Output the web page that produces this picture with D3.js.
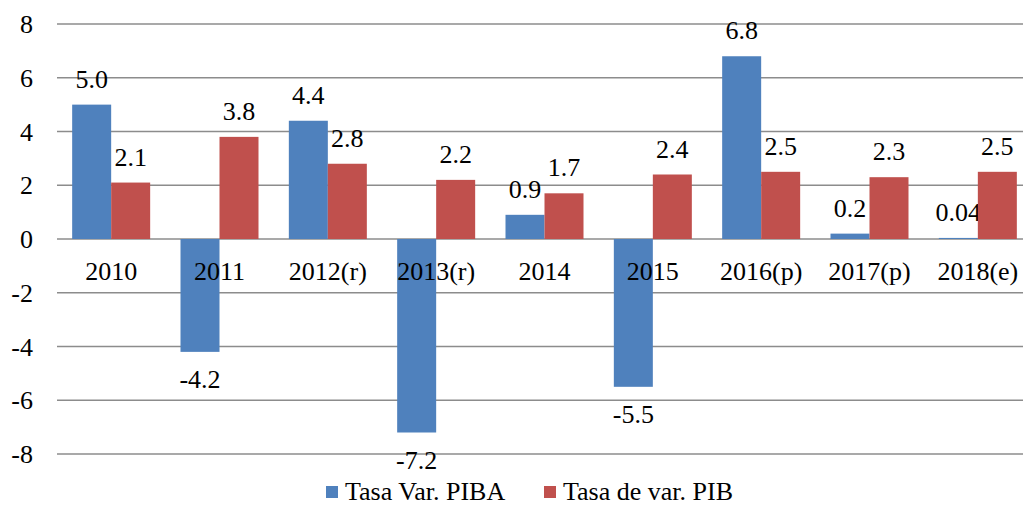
<!DOCTYPE html>
<html>
<head>
<meta charset="utf-8">
<script src="https://cdn.jsdelivr.net/npm/d3@7"></script>
<style>
  body { margin: 0; background: #fff; }
  text { font-family: "Liberation Serif", "Times New Roman", serif; fill: #000; }
</style>
</head>
<body>
<script>
var years = ["2010","2011","2012(r)","2013(r)","2014","2015","2016(p)","2017(p)","2018(e)"];
var piba = [5.0,-4.2,4.4,-7.2,0.9,-5.5,6.8,0.2,0.04];
var pib = [2.1,3.8,2.8,2.2,1.7,2.4,2.5,2.3,2.5];
var pibaLabels = ["5.0","-4.2","4.4","-7.2","0.9","-5.5","6.8","0.2","0.04"];
var pibLabels = ["2.1","3.8","2.8","2.2","1.7","2.4","2.5","2.3","2.5"];
var seriesNames = ["Tasa Var. PIBA","Tasa de var. PIB"];
var colors = ["#4F81BD","#C0504D"];
var yTicks = [-8,-6,-4,-2,0,2,4,6,8];

var W = 1023, H = 516;
var plotL = 57, plotR = 1032, plotT = 24, plotB = 454;
var fs = 26;

var svg = d3.select("body").append("svg").attr("width",W).attr("height",H);

var x = d3.scaleBand().domain(years).range([plotL,plotR]).paddingInner(0.28).paddingOuter(0.14);
var sub = d3.scaleBand().domain([0,1]).range([0,x.bandwidth()]);
var y = d3.scaleLinear().domain([-8,8]).range([plotB,plotT]);

// grid
svg.selectAll("line.grid")
  .data(yTicks)
  .enter().append("line")
    .attr("class","grid")
    .attr("x1",plotL).attr("x2",plotR)
    .attr("y1",function(d){return y(d);})
    .attr("y2",function(d){return y(d);})
    .attr("stroke","#8c8c8c")
    .attr("stroke-width",1.5);

svg.selectAll("text.ytick")
  .data(yTicks)
  .enter().append("text")
    .attr("class","ytick")
    .attr("x",33)
    .attr("y",function(d){return y(d);})
    .attr("dy","0.35em")
    .attr("text-anchor","end")
    .attr("font-size",fs)
    .text(function(d){return d;});

var series = [piba,pib];
var labels = [pibaLabels,pibLabels];

series.forEach(function(s,k){
  svg.selectAll("rect.s"+k)
    .data(s)
    .enter().append("rect")
      .attr("class","s"+k)
      .attr("x",function(d,i){return x(years[i])+sub(k);})
      .attr("width",sub.bandwidth())
      .attr("y",function(d){return d>=0 ? y(d) : y(0);})
      .attr("height",function(d){return Math.max(Math.abs(y(d)-y(0)),0.8);})
      .attr("fill",colors[k]);

  svg.selectAll("text.l"+k)
    .data(s)
    .enter().append("text")
      .attr("class","l"+k)
      .attr("x",function(d,i){return x(years[i])+sub(k)+sub.bandwidth()/2;})
      .attr("y",function(d){return d>=0 ? y(d)-17 : y(d)+36;})
      .attr("text-anchor","middle")
      .attr("font-size",fs)
      .text(function(d,i){return labels[k][i];});
});

// category labels
svg.selectAll("text.cat")
  .data(years)
  .enter().append("text")
    .attr("class","cat")
    .attr("x",function(d){return x(d)+x.bandwidth()/2;})
    .attr("y",280)
    .attr("text-anchor","middle")
    .attr("font-size",fs)
    .text(function(d){return d;});

// legend
var legX = [326,544];
seriesNames.forEach(function(n,k){
  svg.append("rect")
    .attr("x",legX[k]).attr("y",486)
    .attr("width",12).attr("height",12)
    .attr("fill",colors[k]);
  svg.append("text")
    .attr("x",legX[k]+19).attr("y",500)
    .attr("font-size",fs)
    .text(n);
});
</script>
</body>
</html>
